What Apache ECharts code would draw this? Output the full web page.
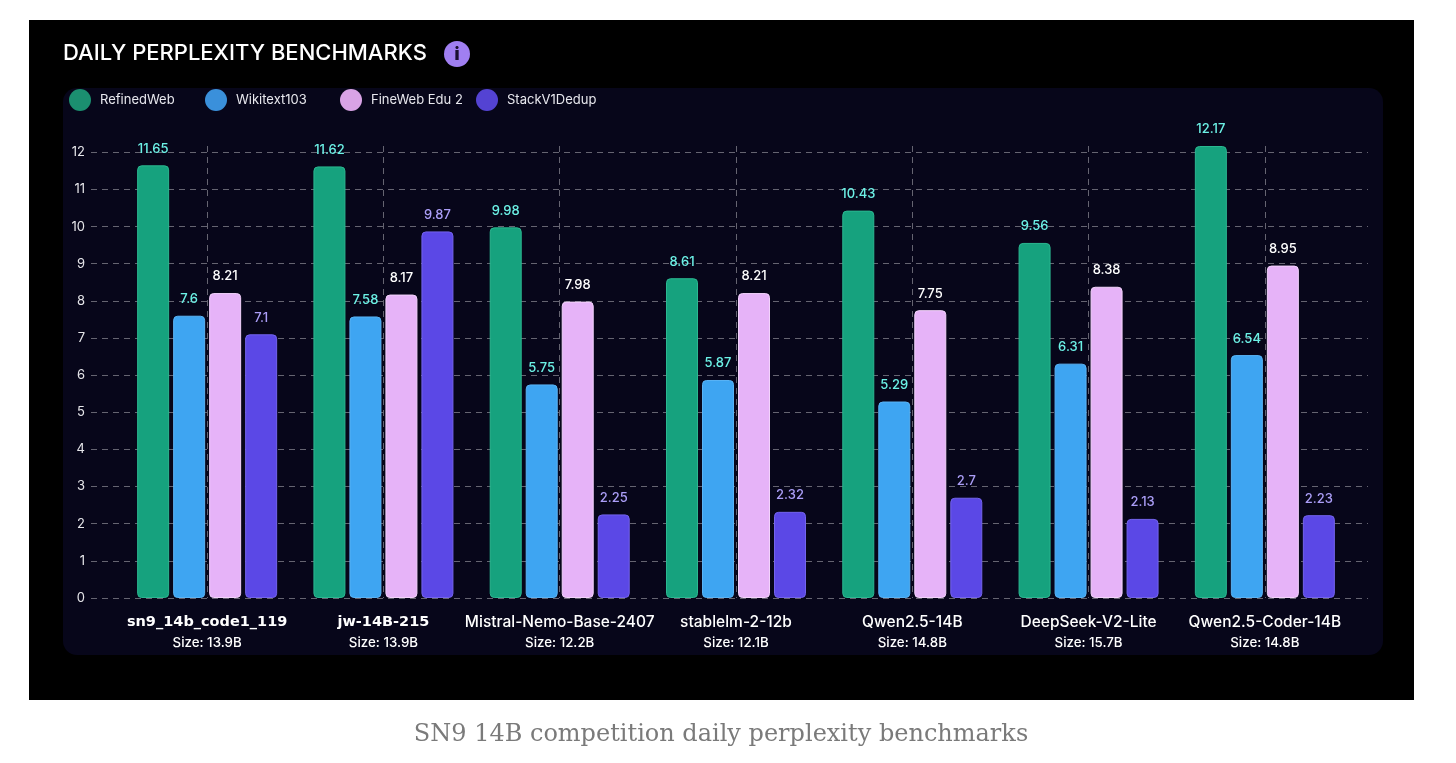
<!DOCTYPE html>
<html>
<head>
<meta charset="utf-8">
<title>Daily perplexity benchmarks</title>
<script src="https://cdn.jsdelivr.net/npm/echarts@6/dist/echarts.min.js"></script>
<style>
  html, body { margin: 0; padding: 0; background: #ffffff; }
  #chart { width: 1456px; height: 763px; }
</style>
</head>
<body>
<div id="chart"></div>
<script>
    // models and their sizes
    var models = ['sn9_14b_code1_119', 'jw-14B-215', 'Mistral-Nemo-Base-2407', 'stablelm-2-12b',
                  'Qwen2.5-14B', 'DeepSeek-V2-Lite', 'Qwen2.5-Coder-14B'];
    var sizes = ['13.9B', '13.9B', '12.2B', '12.1B', '14.8B', '15.7B', '14.8B'];
    var boldModels = ['sn9_14b_code1_119', 'jw-14B-215'];

    // perplexity per dataset
    var refinedWeb = [11.65, 11.62, 9.98, 8.61, 10.43, 9.56, 12.17];
    var wikitext103 = [7.6, 7.58, 5.75, 5.87, 5.29, 6.31, 6.54];
    var fineWebEdu2 = [8.21, 8.17, 7.98, 8.21, 7.75, 8.38, 8.95];
    var stackV1Dedup = [7.1, 9.87, 2.25, 2.32, 2.7, 2.13, 2.23];

    var seriesNames = ['RefinedWeb', 'Wikitext103', 'FineWeb Edu 2', 'StackV1Dedup'];
    var barColors = ['#16a27e', '#3ea5f2', '#e6b3f8', '#5b48e6'];
    var borderColors = ['#2bb891', '#5ab4f6', '#f3d3fc', '#7464ee'];
    var legendColors = ['#1b8f70', '#3a90db', '#d9a3e6', '#5443d3'];
    var labelColors = ['#6cf1e6', '#6cf1e6', '#ffffff', '#ab9ef7'];
    var legendLeft = [69, 205, 340, 476];
    var seriesData = [refinedWeb, wikitext103, fineWebEdu2, stackV1Dedup];

    var yMax = Math.max.apply(null, [].concat(refinedWeb, wikitext103, fineWebEdu2, stackV1Dedup));
    // half-category slots, used only to put the vertical dashed lines at the group centres
    var halfSlots = [];
    for (var k = 0; k <= models.length * 2; k++) halfSlots.push('s' + k);

    var font = 'Inter, "Noto Sans", sans-serif';
    var gridLine = { color: 'rgba(255,255,255,0.38)', width: 1, type: [6, 5] };

    var myChart = echarts.init(document.getElementById('chart'));

    var series = seriesNames.map(function (name, i) {
        return {
            name: name,
            type: 'bar',
            xAxisIndex: 1,
            yAxisIndex: 1,
            data: seriesData[i],
            barWidth: 32,
            barGap: '12.5%',
            z: 3,
            itemStyle: {
                color: barColors[i],
                borderColor: borderColors[i],
                borderWidth: 1,
                borderRadius: 4
            },
            label: {
                show: true,
                position: 'top',
                distance: 10,
                color: labelColors[i],
                fontFamily: font,
                fontSize: 13,
                fontWeight: 500
            }
        };
    });

    option = {
        backgroundColor: '#ffffff',
        animation: false,
        graphic: [
            { type: 'rect', z: -10, shape: { x: 29, y: 20, width: 1385, height: 680 }, style: { fill: '#000000' } },
            { type: 'rect', z: -9, shape: { x: 63, y: 88, width: 1320, height: 567, r: 14 }, style: { fill: '#07061a' } },
            { type: 'text', z: 5, left: 63, top: 42,
              style: { text: 'DAILY PERPLEXITY BENCHMARKS', fill: '#ffffff', font: '500 22px ' + font } },
            { type: 'circle', z: 5, shape: { cx: 457, cy: 54, r: 13 }, style: { fill: '#a07ff1' } },
            { type: 'text', z: 6, x: 457, y: 55,
              style: { text: 'i', fill: '#1a1030', font: '900 17px ' + font, align: 'center', verticalAlign: 'middle' } },
            { type: 'text', z: 5, x: 721, y: 735,
              style: { text: 'SN9 14B competition daily perplexity benchmarks', fill: '#7a7a7a',
                       font: '24px "DejaVu Serif", serif', align: 'center', verticalAlign: 'middle' } }
        ],
        legend: seriesNames.map(function (n, i) {
            return {
                left: legendLeft[i],
                top: 89,
                padding: 0,
                icon: 'circle',
                itemWidth: 22,
                itemHeight: 22,
                data: [{ name: n, itemStyle: { color: legendColors[i], borderWidth: 0 } }],
                textStyle: { color: '#e8e8ee', fontFamily: font, fontSize: 13, padding: [0, 0, 0, 4] }
            };
        }),
        grid: [
            { left: 91, right: 88, top: 146, bottom: 165 },
            { left: 119, right: 103, top: 146, bottom: 165 }
        ],
        xAxis: [
            { type: 'value', gridIndex: 0, show: false },
            {
                type: 'category',
                gridIndex: 1,
                data: models,
                axisLine: { show: false },
                axisTick: { show: false },
                splitLine: { show: false },
                axisLabel: {
                    margin: 13,
                    interval: 0,
                    formatter: function (value, idx) {
                        var key = boldModels.indexOf(value) >= 0 ? 'nb' : 'n';
                        return '{' + key + '|' + value + '}\n{s|Size: ' + sizes[idx] + '}';
                    },
                    rich: {
                        n: { color: '#ffffff', fontFamily: font, fontSize: 15.5, fontWeight: 500, lineHeight: 22 },
                        nb: { color: '#ffffff', fontFamily: '"DejaVu Sans", sans-serif', fontSize: 14.5, fontWeight: 'bold', lineHeight: 22 },
                        s: { color: '#ffffff', fontFamily: font, fontSize: 13.3, fontWeight: 500, lineHeight: 20 }
                    }
                }
            },
            {
                type: 'category',
                gridIndex: 1,
                data: halfSlots,
                boundaryGap: false,
                axisLine: { show: false },
                axisTick: { show: false },
                axisLabel: { show: false },
                splitLine: {
                    show: true,
                    interval: function (index) { return index % 2 === 1; },
                    lineStyle: gridLine
                }
            }
        ],
        yAxis: [
            {
                type: 'value',
                gridIndex: 0,
                min: 0,
                max: yMax,
                interval: 1,
                axisLine: { show: false },
                axisTick: { show: false },
                axisLabel: { color: '#e6e6ea', fontFamily: font, fontSize: 13, margin: 6, showMaxLabel: false },
                splitLine: { show: true, showMaxLine: false, lineStyle: gridLine }
            },
            {
                type: 'value',
                gridIndex: 1,
                min: 0,
                max: yMax,
                interval: 1,
                show: false,
                splitLine: { show: false }
            }
        ],
        series: series
    };

    myChart.setOption(option);
</script>
</body>
</html>
